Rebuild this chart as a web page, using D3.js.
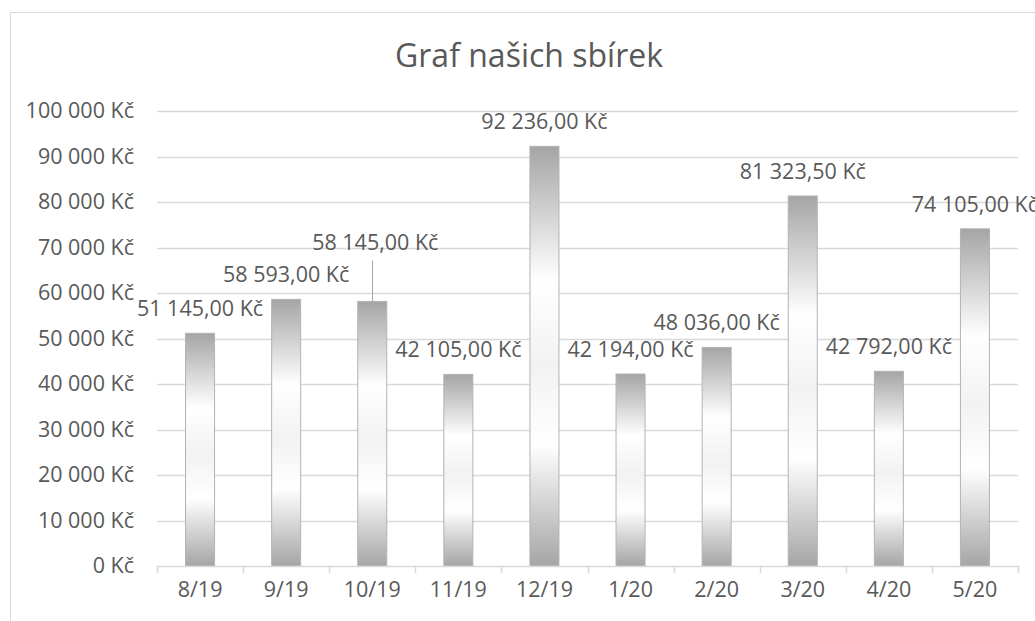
<!DOCTYPE html>
<html>
<head>
<meta charset="utf-8">
<script src="https://cdn.jsdelivr.net/npm/d3@7"></script>
<style>
  body { margin: 0; background: #fff; overflow: hidden; }
  text { font-family: "Open Sans", sans-serif; fill: #595959; }
</style>
</head>
<body>
<script>
// data
var months = ["8/19", "9/19", "10/19", "11/19", "12/19", "1/20", "2/20", "3/20", "4/20", "5/20"];
var amounts = [51145, 58593, 58145, 42105, 92236, 42194, 48036, 81323.5, 42792, 74105];
var yTicks = [0, 10000, 20000, 30000, 40000, 50000, 60000, 70000, 80000, 90000, 100000];

var W = 1035, H = 621;
var plotLeft = 157, plotRight = 1018, plotTop = 111, plotBottom = 566;
var fs = "21.5px";

var svg = d3.select("body").append("svg")
  .attr("width", W)
  .attr("height", H);

// bar gradient (grey - white - grey)
var grad = svg.append("defs").append("linearGradient")
  .attr("id", "barGrad")
  .attr("x1", 0).attr("y1", 0).attr("x2", 0).attr("y2", 1);
[[0, "#a5a5a5"], [0.32, "#ffffff"], [0.52, "#f2f2f2"], [0.71, "#ffffff"], [1, "#a5a5a5"]]
  .forEach(function (s) {
    grad.append("stop").attr("offset", s[0]).attr("stop-color", s[1]);
  });

// chart border (runs off the picture on right and bottom)
svg.append("rect")
  .attr("x", 10.5).attr("y", 12.5)
  .attr("width", 1100).attr("height", 700)
  .attr("fill", "none")
  .attr("stroke", "#d9d9d9")
  .attr("stroke-width", 1);

svg.append("text")
  .attr("x", 529)
  .attr("y", 67)
  .attr("text-anchor", "middle")
  .attr("font-size", "32px")
  .text("Graf našich sbírek");

var y = d3.scaleLinear().domain([0, 100000]).range([plotBottom, plotTop]);
var xCat = d3.scaleBand().domain(months).range([plotLeft, plotRight]);
var xBar = d3.scaleBand().domain(months).range([plotLeft, plotRight])
  .paddingInner(0.663).paddingOuter(0.3315);

var fmtTick = function (d) {
  return d3.format(",")(d).replace(/,/g, " ") + " Kč";
};
var fmtLabel = function (d) {
  return d3.format(",.2f")(d).replace(/,/g, " ").replace(".", ",") + " Kč";
};

// gridlines
svg.append("g").selectAll("line")
  .data(yTicks.filter(function (d) { return d > 0; }))
  .enter().append("line")
  .attr("x1", plotLeft).attr("x2", plotRight)
  .attr("y1", function (d) { return Math.round(y(d)) + 0.5; })
  .attr("y2", function (d) { return Math.round(y(d)) + 0.5; })
  .attr("stroke", "#d9d9d9")
  .attr("stroke-width", 1.5);

// y axis labels
var yAxis = d3.axisLeft(y).tickValues(yTicks).tickSize(0).tickPadding(0).tickFormat(fmtTick);
var gy = svg.append("g")
  .attr("transform", "translate(134,0)")
  .call(yAxis);
gy.select(".domain").remove();
gy.selectAll("text")
  .attr("font-size", fs)
  .attr("fill", "#595959")
  .attr("font-family", "Open Sans, sans-serif");

// bars
svg.append("g").selectAll("rect")
  .data(amounts)
  .enter().append("rect")
  .attr("x", function (d, i) { return xBar(months[i]); })
  .attr("y", function (d) { return y(d); })
  .attr("width", xBar.bandwidth())
  .attr("height", function (d) { return plotBottom - y(d); })
  .attr("fill", "url(#barGrad)")
  .attr("stroke", "#b3b3b3")
  .attr("stroke-width", 1);

// x axis line + ticks between categories
var xa = svg.append("g");
xa.append("line")
  .attr("x1", plotLeft).attr("x2", plotRight)
  .attr("y1", plotBottom + 0.5).attr("y2", plotBottom + 0.5)
  .attr("stroke", "#d9d9d9").attr("stroke-width", 1.5);
xa.selectAll("line.tick")
  .data(months.concat(["end"]))
  .enter().append("line")
  .attr("class", "tick")
  .attr("x1", function (d, i) { return Math.round(plotLeft + i * xCat.step()) + 0.5; })
  .attr("x2", function (d, i) { return Math.round(plotLeft + i * xCat.step()) + 0.5; })
  .attr("y1", plotBottom).attr("y2", plotBottom + 7)
  .attr("stroke", "#d9d9d9").attr("stroke-width", 1.5);

var xAxis = d3.axisBottom(xCat).tickSize(0).tickPadding(0);
var gx = svg.append("g")
  .attr("transform", "translate(0," + plotBottom + ")")
  .call(xAxis);
gx.select(".domain").remove();
gx.selectAll("text")
  .attr("dy", null)
  .attr("y", 31)
  .attr("font-size", fs)
  .attr("fill", "#595959")
  .attr("font-family", "Open Sans, sans-serif");

// data labels (10/19 label was dragged up, with a leader line)
var moved = { index: 2, dx: 3, dy: -34 };

svg.append("g").selectAll("text")
  .data(amounts)
  .enter().append("text")
  .attr("x", function (d, i) {
    return xCat(months[i]) + xCat.bandwidth() / 2 + (i === moved.index ? moved.dx : 0);
  })
  .attr("y", function (d, i) {
    return y(d) - 17 + (i === moved.index ? moved.dy : 0);
  })
  .attr("text-anchor", "middle")
  .attr("font-size", fs)
  .text(fmtLabel);

var mx = Math.round(xCat(months[moved.index]) + xCat.bandwidth() / 2) + 0.5;
svg.append("line")
  .attr("x1", mx).attr("x2", mx)
  .attr("y1", y(amounts[moved.index]) - 17 + moved.dy + 10)
  .attr("y2", y(amounts[moved.index]))
  .attr("stroke", "#a6a6a6")
  .attr("stroke-width", 1);
</script>
</body>
</html>
